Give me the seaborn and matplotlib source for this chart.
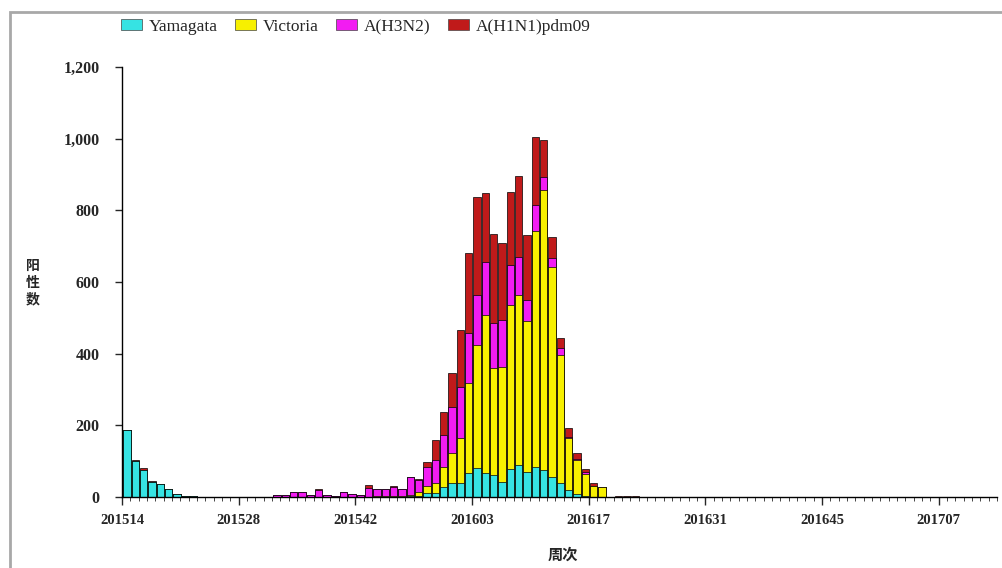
import numpy as np
import pandas as pd
import matplotlib
matplotlib.use('Agg')
import matplotlib.pyplot as plt
import seaborn as sns
from matplotlib.patches import Patch, Rectangle

# ---- data ----
years = [2015] * 40 + [2016] * 52 + [2017] * 13
week_nums = list(range(14, 54)) + list(range(1, 53)) + list(range(1, 14))
weeks = [f"{y}{w:02d}" for y, w in zip(years, week_nums)]

yamagata = [186, 100, 76, 42, 35, 22, 8, 3, 2, 0, 0, 0, 0, 0, 0,
            0, 0, 0, 0, 0, 0, 0, 0, 0, 0, 0, 0, 0, 0, 0,
            1, 1, 1, 1, 2, 3, 10, 10, 29, 38, 38, 66, 80, 68, 61,
            43, 77, 89, 71, 85, 75, 57, 38, 20, 7, 3, 0, 0, 0, 0,
            0, 0, 0, 0, 0, 0, 0, 0, 0, 0, 0, 0, 0, 0, 0,
            0, 0, 0, 0, 0, 0, 0, 0, 0, 0, 0, 0, 0, 0, 0,
            0, 0, 0, 0, 0, 0, 0, 0, 0, 0, 0, 0, 0, 0, 0]
victoria = [0, 0, 0, 0, 0, 0, 0, 0, 0, 0, 0, 0, 0, 0, 0,
            0, 0, 0, 0, 0, 0, 0, 0, 0, 0, 0, 0, 0, 0, 1,
            1, 1, 1, 2, 4, 12, 20, 28, 56, 84, 126, 251, 344, 440, 298,
            321, 459, 474, 419, 656, 781, 586, 358, 144, 95, 60, 32, 27, 0, 0,
            0, 0, 0, 0, 0, 0, 0, 0, 0, 0, 0, 0, 0, 0, 0,
            0, 0, 0, 0, 0, 0, 0, 0, 0, 0, 0, 0, 0, 0, 0,
            0, 0, 0, 0, 0, 0, 0, 0, 0, 0, 0, 0, 0, 0, 0]
h3n2 = [0, 0, 0, 0, 0, 0, 0, 0, 0, 0, 0, 0, 0, 0, 0,
        0, 0, 1, 6, 6, 14, 14, 5, 20, 6, 2, 13, 9, 5, 24,
        19, 21, 27, 20, 50, 32, 54, 65, 88, 130, 144, 140, 140, 148, 126,
        130, 112, 107, 60, 74, 37, 23, 19, 4, 3, 8, 0, 0, 0, 1,
        1, 1, 0, 0, 0, 0, 0, 0, 0, 0, 0, 0, 0, 0, 0,
        0, 0, 0, 0, 0, 0, 0, 0, 0, 0, 0, 0, 0, 0, 0,
        0, 0, 0, 0, 0, 0, 0, 0, 0, 0, 0, 0, 0, 0, 0]
h1n1 = [0, 2, 4, 3, 0, 0, 0, 0, 0, 0, 0, 0, 0, 0, 0,
        0, 0, 0, 0, 0, 0, 0, 0, 1, 0, 0, 1, 0, 0, 8,
        0, 0, 2, 0, 0, 2, 14, 56, 65, 93, 158, 223, 274, 191, 249,
        216, 202, 225, 181, 191, 104, 59, 28, 24, 17, 7, 6, 1, 1, 3,
        3, 3, 1, 0, 0, 0, 0, 0, 0, 0, 0, 0, 0, 0, 0,
        0, 0, 0, 0, 0, 0, 0, 0, 0, 0, 0, 0, 0, 0, 0,
        0, 0, 0, 0, 0, 0, 0, 0, 0, 0, 0, 0, 0, 0, 0]

series_names = ["Yamagata", "Victoria", "A(H3N2)", "A(H1N1)pdm09"]
series_colors = ["#36e3e3", "#f7f000", "#f21cf2", "#c01a1a"]
tick_labels = ["201514", "201528", "201542", "201603", "201617", "201631", "201645", "201707"]
y_ticks = [0, 200, 400, 600, 800, 1000, 1200]

df = pd.DataFrame({"week": weeks, "Yamagata": yamagata, "Victoria": victoria,
                   "A(H3N2)": h3n2, "A(H1N1)pdm09": h1n1})
cum = df[series_names].cumsum(axis=1)
cum["week"] = df["week"]

# ---- plot ----
sns.set_style("white")
plt.rcParams['font.family'] = ['Liberation Serif', 'DejaVu Serif']

fig = plt.figure(figsize=(10.03, 5.68), dpi=100)
ax = fig.add_axes([122 / 1003, 71 / 568, 875 / 1003, 430 / 568])

for name, col in reversed(list(zip(series_names, series_colors))):
    sns.barplot(data=cum, x="week", y=name, order=weeks, color=col, saturation=1,
                edgecolor="black", linewidth=0.5, width=0.9, errorbar=None, ax=ax)

ax.set_xlim(-0.6, len(weeks) - 0.6)
ax.set_ylim(0, 1200)
ax.set_yticks(y_ticks)
ax.set_yticklabels([f"{v:,}" for v in y_ticks], fontsize=11.5, fontweight="bold")
major_pos = [weeks.index(t) - 0.6 for t in tick_labels]
ax.set_xticks(major_pos)
ax.set_xticklabels(tick_labels, fontsize=10.5, fontweight="bold")
ax.set_xticks(np.arange(len(weeks) + 1) - 0.6, minor=True)
ax.tick_params(axis="x", which="major", length=6, width=1, direction="out", pad=6, bottom=True)
ax.tick_params(axis="x", which="minor", length=3, width=0.6, direction="out", bottom=True)
ax.tick_params(axis="y", which="major", length=5, width=1, direction="out", pad=11, left=True)
ax.set_xlabel("")
ax.set_ylabel("")
for s in ["top", "right"]:
    ax.spines[s].set_visible(False)
for s in ["left", "bottom"]:
    ax.spines[s].set_color("black")
    ax.spines[s].set_linewidth(1)

cjk = ['Noto Sans CJK SC', 'DejaVu Sans']
fig.text(33 / 1003, 1 - 283 / 568, "阳\n性\n数", family=cjk, fontsize=10, fontweight="bold",
         ha="center", va="center", linespacing=1.25)
fig.text(563 / 1003, 1 - 555 / 568, "周次", family=cjk, fontsize=11, fontweight="bold",
         ha="center", va="center")

handles = [Patch(facecolor=c, edgecolor="#444444", linewidth=0.5) for c in series_colors]
fig.legend(handles, series_names, loc="center left", bbox_to_anchor=(116 / 1003, 1 - 27 / 568),
           ncol=4, frameon=False, fontsize=12.5, handlelength=1.2, handleheight=0.6,
           handletextpad=0.4, columnspacing=1.0, borderaxespad=0, borderpad=0.3)

fig.patches.append(Rectangle((10 / 1003, -0.05), 1.2, 1 - 12 / 568 + 0.05,
                             transform=fig.transFigure, fill=False,
                             edgecolor="#a8a8a8", linewidth=2))

fig.savefig("out.png", dpi=100)
